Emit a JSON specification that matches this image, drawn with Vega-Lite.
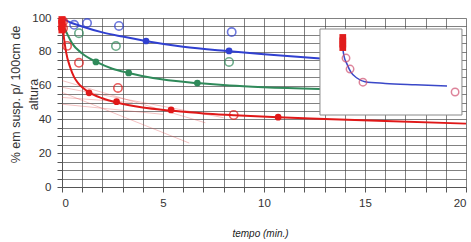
{
  "$schema": "https://vega.github.io/schema/vega-lite/v6.json",
  "width": 404,
  "height": 169,
  "autosize": "none",
  "padding": {"left": 62, "top": 18, "right": 5, "bottom": 55},
  "background": "white",
  "config": {
    "view": {"stroke": null},
    "font": "Liberation Sans",
    "axis": {
      "grid": true, "gridColor": "#444", "gridWidth": 0.8, "gridOpacity": 0.85,
      "domain": true, "domainColor": "#555", "ticks": true,
      "tickColor": "#555", "tickSize": 5, "labelOverlap": false,
      "labelFontSize": 11.5, "labelColor": "#333", "titleFontWeight": "normal"
    }
  },
  "datasets": {
    "curves": [
      {"s": "blue", "x": 0, "y": 100}, {"s": "blue", "x": 0.3, "y": 98}, {"s": "blue", "x": 1, "y": 95}, {"s": "blue", "x": 2, "y": 91.5}, {"s": "blue", "x": 3, "y": 89}, {"s": "blue", "x": 4.2, "y": 86.3}, {"s": "blue", "x": 6, "y": 83}, {"s": "blue", "x": 8.3, "y": 80.3}, {"s": "blue", "x": 10, "y": 78.5}, {"s": "blue", "x": 12.8, "y": 76},
      {"s": "green", "x": 0, "y": 97}, {"s": "green", "x": 0.2, "y": 92}, {"s": "green", "x": 0.5, "y": 85}, {"s": "green", "x": 1, "y": 79}, {"s": "green", "x": 1.7, "y": 74}, {"s": "green", "x": 2.5, "y": 70}, {"s": "green", "x": 3.3, "y": 67.5}, {"s": "green", "x": 4.5, "y": 64.5}, {"s": "green", "x": 6.7, "y": 61.5}, {"s": "green", "x": 8.3, "y": 60}, {"s": "green", "x": 10, "y": 59}, {"s": "green", "x": 12.8, "y": 58},
      {"s": "red", "x": 0, "y": 100}, {"s": "red", "x": 0.1, "y": 88}, {"s": "red", "x": 0.2, "y": 80}, {"s": "red", "x": 0.4, "y": 71}, {"s": "red", "x": 0.6, "y": 65}, {"s": "red", "x": 0.8, "y": 61.5}, {"s": "red", "x": 1, "y": 59}, {"s": "red", "x": 1.34, "y": 56}, {"s": "red", "x": 2, "y": 52.5}, {"s": "red", "x": 2.7, "y": 50}, {"s": "red", "x": 4, "y": 47}, {"s": "red", "x": 5.4, "y": 45.2}, {"s": "red", "x": 7, "y": 43.5}, {"s": "red", "x": 8.5, "y": 42.5}, {"s": "red", "x": 10.7, "y": 41.2}, {"s": "red", "x": 13, "y": 40.2}, {"s": "red", "x": 16, "y": 39}, {"s": "red", "x": 20, "y": 37.5}
    ],
    "faint": [
      {"s": "f1", "x": 0, "y": 56}, {"s": "f1", "x": 6.3, "y": 26},
      {"s": "f2", "x": 0, "y": 63}, {"s": "f2", "x": 7.1, "y": 38},
      {"s": "f3", "x": 0, "y": 53}, {"s": "f3", "x": 3.5, "y": 50},
      {"s": "f4", "x": 0, "y": 49}, {"s": "f4", "x": 5, "y": 43},
      {"s": "f5", "x": 0, "y": 59}, {"s": "f5", "x": 8, "y": 41}
    ],
    "filled": [
      {"s": "blue", "x": 4.16, "y": 86.4}, {"s": "blue", "x": 8.27, "y": 80.5},
      {"s": "green", "x": 1.68, "y": 74}, {"s": "green", "x": 3.3, "y": 67.5}, {"s": "green", "x": 6.7, "y": 61.5},
      {"s": "red", "x": 1.34, "y": 55.7}, {"s": "red", "x": 2.7, "y": 50.5}, {"s": "red", "x": 5.4, "y": 45.6}, {"s": "red", "x": 10.7, "y": 41.3}
    ],
    "open": [
      {"s": "blue", "x": 0.6, "y": 96}, {"s": "blue", "x": 1.24, "y": 97}, {"s": "blue", "x": 2.82, "y": 95.3}, {"s": "blue", "x": 8.4, "y": 91.7},
      {"s": "green", "x": 0.84, "y": 91}, {"s": "green", "x": 2.67, "y": 83.4}, {"s": "green", "x": 8.27, "y": 74},
      {"s": "red", "x": 0.05, "y": 98}, {"s": "red", "x": 0.05, "y": 94}, {"s": "red", "x": 0.25, "y": 83.5}, {"s": "red", "x": 0.84, "y": 73.5}, {"s": "red", "x": 2.77, "y": 58.6}, {"s": "red", "x": 8.5, "y": 42.6}
    ],
    "squares": [
      {"x": 0, "y": 99}, {"x": 0, "y": 97}, {"x": 0, "y": 95}, {"x": 0, "y": 93}
    ],
    "inset": [
      {"x": 12.77, "x2": 19.8, "y": 42.6, "y2": 93.5}
    ],
    "insetline": [
      {"x": 13.86, "y": 86}, {"x": 13.95, "y": 78}, {"x": 14.1, "y": 73}, {"x": 14.3, "y": 68}, {"x": 14.6, "y": 64.5}, {"x": 15, "y": 62.3}, {"x": 16, "y": 61.3}, {"x": 17.5, "y": 60.5}, {"x": 19.06, "y": 59.8}
    ],
    "insetsq": [
      {"x": 13.9, "y": 88.5}, {"x": 13.9, "y": 86.5}, {"x": 13.9, "y": 84.5}, {"x": 13.9, "y": 82.5}
    ],
    "insetopen": [
      {"x": 14.06, "y": 76.3}, {"x": 14.26, "y": 69.8}, {"x": 14.9, "y": 62}, {"x": 19.46, "y": 56.2}
    ]
  },
  "encoding": {
    "x": {
      "field": "x", "type": "quantitative",
      "scale": {"domain": [0, 20], "nice": false},
      "axis": {
        "values": [0,1,2,3,4,5,6,7,8,9,10,11,12,13,14,15,16,17,18,19,20],
        "labelExpr": "datum.value % 5 === 0 ? datum.label : ''",
        "labelPadding": 5,
        "title": "tempo (min.)", "titleFontStyle": "italic",
        "titleFontSize": 10, "titleColor": "#222", "titleX": 198, "titleY": 46, "titleBaseline": "middle"
      }
    },
    "y": {
      "field": "y", "type": "quantitative",
      "scale": {"domain": [0, 100], "nice": false},
      "axis": {
        "values": [0,5,10,15,20,25,30,35,40,45,50,55,60,65,70,75,80,85,90,95,100],
        "labelExpr": "datum.value % 20 === 0 ? datum.label : ''",
        "labelPadding": 6,
        "title": ["% em susp. p/ 100cm de", "altura"],
        "titleFontSize": 12.5, "titleColor": "#333",
        "titleLineHeight": 18, "titleX": -47, "titleY": 76, "titleAngle": -90,
        "titleAlign": "center", "titleBaseline": "middle"
      }
    }
  },
  "layer": [
    {
      "data": {"name": "faint"},
      "mark": {"type": "line", "strokeWidth": 1, "opacity": 0.35, "color": "#e05050"},
      "encoding": {"detail": {"field": "s"}}
    },
    {
      "data": {"name": "curves"},
      "mark": {"type": "line", "strokeWidth": 2, "interpolate": "monotone"},
      "encoding": {
        "color": {"field": "s", "type": "nominal", "scale": {"domain": ["blue", "green", "red"], "range": ["#3040d0", "#2f8a5a", "#e01818"]}, "legend": null}
      }
    },
    {
      "data": {"name": "open"},
      "mark": {"type": "point", "shape": "circle", "filled": false, "size": 70, "strokeWidth": 1.6},
      "encoding": {
        "color": {"field": "s", "type": "nominal", "scale": {"domain": ["blue", "green", "red"], "range": ["#3a3ad8", "#70b890", "#e04860"]}, "legend": null}
      }
    },
    {
      "data": {"name": "squares"},
      "mark": {"type": "point", "shape": "square", "filled": true, "size": 50, "color": "#e81c1c", "opacity": 1},
      "encoding": {}
    },
    {
      "data": {"name": "filled"},
      "mark": {"type": "point", "shape": "circle", "filled": true, "size": 45, "opacity": 1},
      "encoding": {
        "color": {"field": "s", "type": "nominal", "scale": {"domain": ["blue", "green", "red"], "range": ["#2b2b6e", "#34503e", "#c40c0c"]}, "legend": null}
      }
    },
    {
      "data": {"name": "inset"},
      "mark": {"type": "rect", "fill": "white", "stroke": "#888", "strokeWidth": 1},
      "encoding": {
        "x2": {"field": "x2"},
        "y2": {"field": "y2"}
      }
    },
    {
      "data": {"name": "insetline"},
      "mark": {"type": "line", "strokeWidth": 1.5, "color": "#3a48c8", "interpolate": "monotone"},
      "encoding": {}
    },
    {
      "data": {"name": "insetopen"},
      "mark": {"type": "point", "shape": "circle", "filled": false, "size": 55, "strokeWidth": 1.5, "color": "#d05070"},
      "encoding": {}
    },
    {
      "data": {"name": "insetsq"},
      "mark": {"type": "point", "shape": "square", "filled": true, "size": 45, "color": "#e01c1c", "opacity": 1},
      "encoding": {}
    }
  ]
}
